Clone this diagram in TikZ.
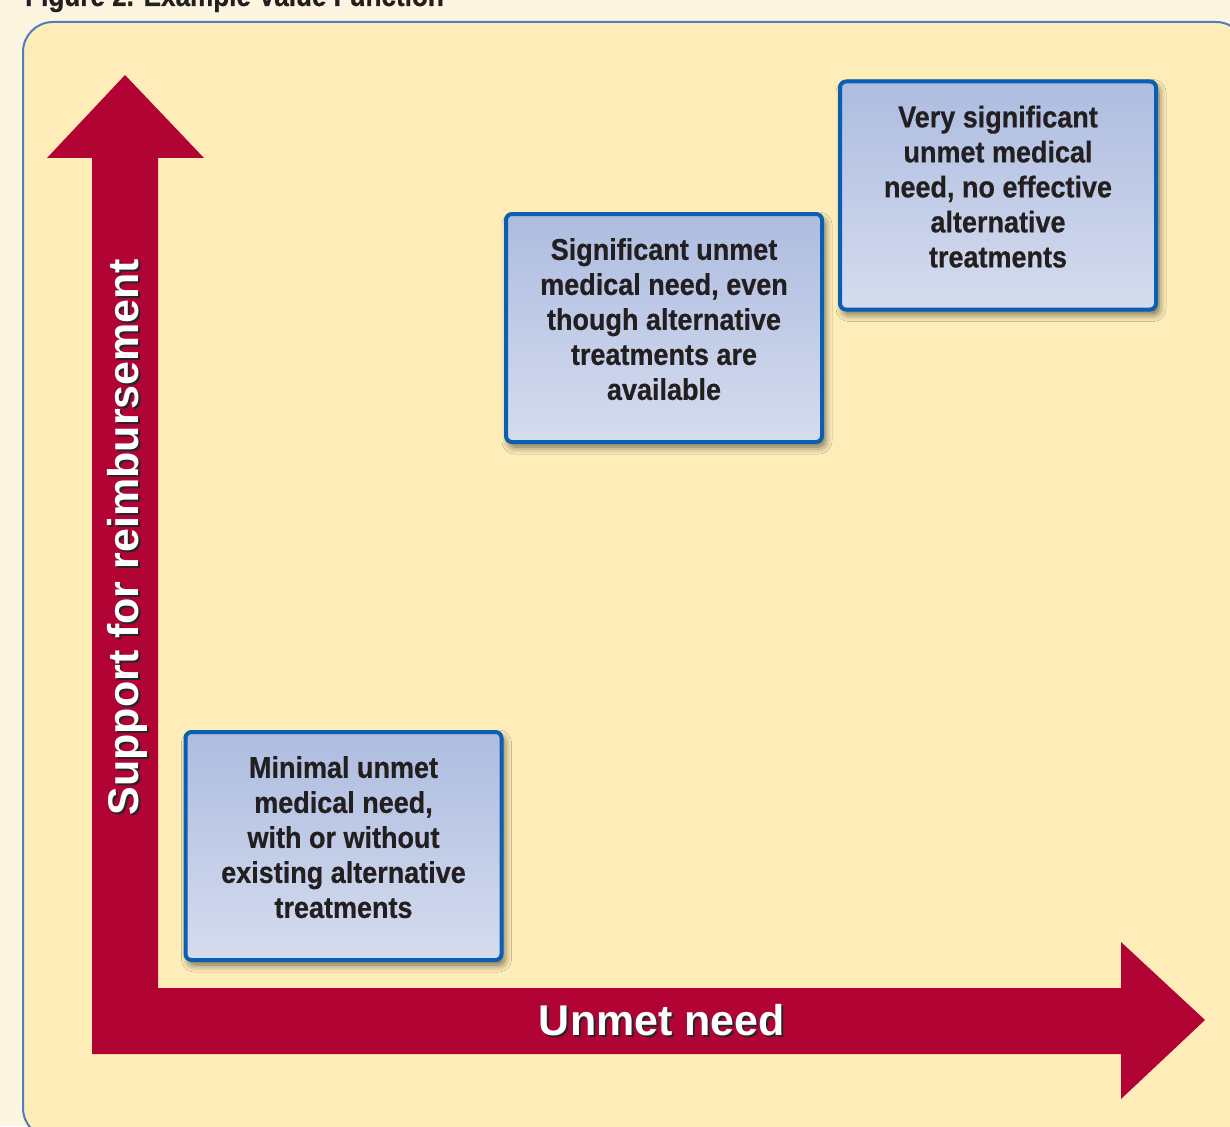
\documentclass[tikz,border=0pt]{standalone}
\usepackage{fontspec}
\setmainfont{Liberation Sans}
\newfontfamily\condfont{Liberation Sans}[FakeStretch=0.9, FakeBold=0.6]
\usetikzlibrary{positioning,shadows.blur}

\definecolor{pagecream}{HTML}{FDF5DF}
\definecolor{panelfill}{HTML}{FEEDB9}
\definecolor{panelline}{HTML}{4F7DC2}
\definecolor{axisred}{HTML}{B10334}
\definecolor{boxtop}{HTML}{ADBCE0}
\definecolor{boxbottom}{HTML}{D5DCEE}
\definecolor{boxline}{HTML}{0B5FB0}
\definecolor{inktext}{HTML}{231F20}

\begin{document}
\begin{tikzpicture}[
  x=1pt, y=-1pt,
  needbox/.style={rectangle, draw=boxline, line width=4pt, rounded corners=6pt, top color=boxtop, bottom color=boxbottom, minimum width=316pt, minimum height=228pt, align=center, text=inktext, text depth=18pt, font=\condfont\bfseries\fontsize{30}{35}\selectfont, blur shadow={shadow xshift=3pt, shadow yshift=-5pt, shadow blur radius=7pt, shadow blur steps=8, shadow opacity=55}},
  axislabel/.style={text=white, inner sep=0pt, font=\bfseries\fontsize{43}{48}\selectfont},
  axisshadow/.style={axislabel, text=black!85},
  titletext/.style={inner sep=0pt, text=inktext, font=\condfont\bfseries\fontsize{29}{34}\selectfont}
]

\clip (0,0) rectangle (1230,1126);
\fill[pagecream] (0,0) rectangle (1230,1126);
\node[titletext, anchor=base west] (title) at (25,6) {Figure 2. Example Value Function};
\path[fill=panelfill, draw=panelline, line width=2pt, rounded corners=30pt] (23,22) rectangle (1246,1138);

\fill[axisred] (92,1054) -- (92,158) -- (47,158) -- (125,75) -- (204,158) -- (158,158) -- (158,988)
  -- (1121,988) -- (1121,942) -- (1205,1020) -- (1121,1099) -- (1121,1054) -- cycle;

\node[axisshadow, anchor=base] (needshadow) at (664,1037) {Unmet need};
\node[axislabel, anchor=base] (needlabel) at (662,1035) {Unmet need};
\node[axisshadow, rotate=90, anchor=base] (supportshadow) at (140,539) {Support for reimbursement};
\node[axislabel, rotate=90, anchor=base] (supportlabel) at (138,537) {Support for reimbursement};

\node[needbox] (minimal) at (343.5,846) {Minimal unmet\\medical need,\\with or without\\existing alternative\\treatments};
\node[needbox] (significant) at (664,328) {Significant unmet\\medical need, even\\though alternative\\treatments are\\available};
\node[needbox] (verysignificant) at (998,195.5) {Very significant\\unmet medical\\need, no effective\\alternative\\treatments};

\end{tikzpicture}
\end{document}
